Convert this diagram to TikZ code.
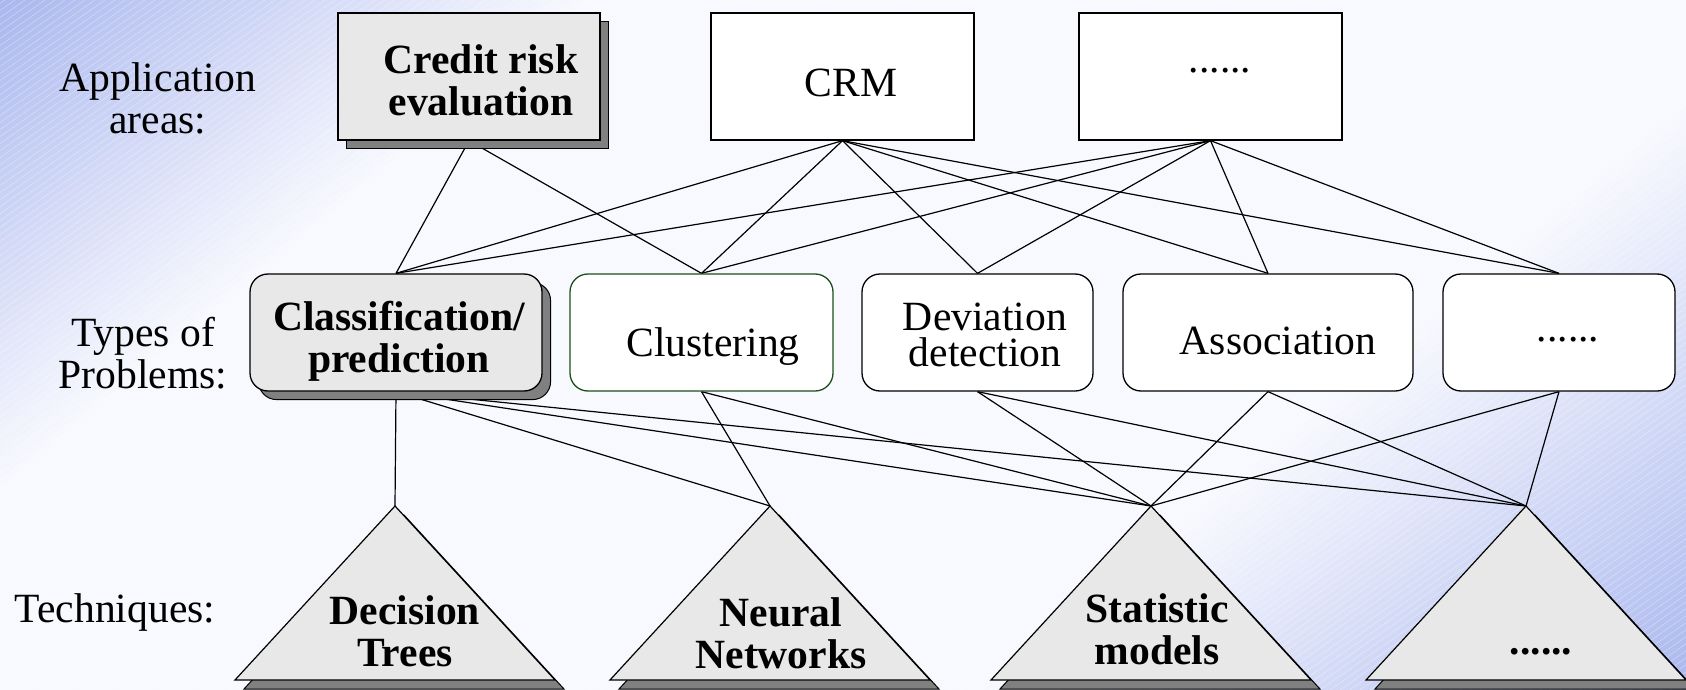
\documentclass[tikz,border=0pt]{standalone}
\usepackage{fontspec}
\setmainfont{Liberation Serif}
\usetikzlibrary{shadows}
\definecolor{bgblue}{RGB}{170,183,238}
\definecolor{bgwhite}{RGB}{248,249,254}
\definecolor{boxgray}{RGB}{232,232,232}
\definecolor{shadowgray}{RGB}{128,128,128}
\definecolor{darkgreen}{RGB}{28,78,28}
\pgfdeclarelayer{bg}
\pgfdeclarelayer{links}
\pgfsetlayers{bg,links,main}
\begin{document}
\begin{tikzpicture}[x=0.5pt,y=-0.5pt,
  txt/.style={inner sep=0pt, align=center, font=\fontsize{20.8}{21}\selectfont},
  btxt/.style={inner sep=0pt, align=center, font=\fontsize{20.8}{21}\selectfont\bfseries},
  areabox/.style={draw=black, line width=0.65pt, fill=white, inner sep=0pt, minimum height=63.5pt},
  probbox/.style={draw=black, line width=0.65pt, fill=white, rounded corners=9pt, inner sep=0pt, minimum height=58.5pt},
  shadowed/.style={fill=boxgray, drop shadow={shadow xshift=4.3pt, shadow yshift=-4.3pt, fill=shadowgray, opacity=1, draw=black, line width=0.5pt}},
  link/.style={draw=black, line width=0.6pt},
  tri/.style={draw=black, line width=0.6pt, fill=boxgray},
  trishadow/.style={draw=black, line width=0.5pt, fill=shadowgray}
]
\useasboundingbox (0,0) rectangle (1686,690);

% ---- diagonal background gradient with faint hatching ----
\begin{pgfonlayer}{bg}
\begin{scope}
  \clip (0,0) rectangle (1686,690);
  \fill[bgwhite] (0,0) rectangle (1686,690);
  \foreach \t in {-815,-810,...,-430} {
    \pgfmathsetmacro\f{min(100,max(0,(-430-\t)/375*100))}
    \fill[bgblue!\f!bgwhite]
      ({843+0.64*\t-770},{345+0.77*\t+640}) -- ({843+0.64*\t+770},{345+0.77*\t-640}) --
      ({843+0.64*(\t+6)+770},{345+0.77*(\t+6)-640}) -- ({843+0.64*(\t+6)-770},{345+0.77*(\t+6)+640}) -- cycle;
  }
  \foreach \t in {350,355,...,815} {
    \pgfmathsetmacro\f{min(100,max(0,(\t-350)/455*100))}
    \fill[bgblue!\f!bgwhite]
      ({843+0.64*\t-770},{345+0.77*\t+640}) -- ({843+0.64*\t+770},{345+0.77*\t-640}) --
      ({843+0.64*(\t+6)+770},{345+0.77*(\t+6)-640}) -- ({843+0.64*(\t+6)-770},{345+0.77*(\t+6)+640}) -- cycle;
  }
  \foreach \s in {-1000,-990,...,1700}
    \draw[white, opacity=0.35, line width=0.3pt] (\s,690) -- ({\s+985},0);
\end{scope}
\end{pgfonlayer}

% ---- row labels ----
\node[txt] (lblarea) at (158,98) {Application\\areas:};
\node[txt] (lblprob) at (143,353) {Types of\\Problems:};
\node[txt, anchor=base] (lbltech) at (115,622) {Techniques:};

% ---- application areas ----
\node[areabox, shadowed, minimum width=131pt] (credit) at (469,76.5) {};
\node[areabox, minimum width=131.5pt] (crm) at (842.5,76.5) {};
\node[areabox, minimum width=131.5pt] (adots) at (1210.5,76.5) {};
\node[btxt] (credit-t) at (481,80) {Credit risk\\evaluation};
\node[txt, anchor=base] (crm-t) at (851,97) {CRM};
\node[txt, anchor=base] (adots-t) at (1220,73) {......};

% ---- types of problems ----
\node[probbox, shadowed, minimum width=146pt] (classif) at (396,332.5) {};
\node[probbox, draw=darkgreen, minimum width=131.5pt] (cluster) at (701.5,332.5) {};
\node[probbox, minimum width=115.5pt] (deviation) at (977.5,332.5) {};
\node[probbox, minimum width=145pt] (assoc) at (1268,332.5) {};
\node[probbox, minimum width=116pt] (pdots) at (1559,332.5) {};
\node[btxt] (classif-t) at (399,341) {Classification/\\prediction};
\node[txt, anchor=base] (cluster-t) at (713,356) {Clustering};
\node[txt, font=\fontsize{20.8}{18.2}\selectfont] (deviation-t) at (985,335) {Deviation\\detection};
\node[txt, anchor=base] (assoc-t) at (1278,354) {Association};
\node[txt, anchor=base] (pdots-t) at (1568,341) {......};

% ---- techniques (triangles) ----
\coordinate (dt) at (395,506);
\coordinate (nn) at (770,506);
\coordinate (sm) at (1151,506);
\coordinate (tdots) at (1526,506);
\foreach \c in {dt,nn,sm,tdots} {
  \draw[trishadow] ([shift={(9,9)}]\c) -- ++(-160,174) -- ++(320,0) -- cycle;
  \draw[tri] (\c) -- ++(-160,174) -- ++(320,0) -- cycle;
}
\node[btxt] (dt-t) at (405,631) {Decision\\Trees};
\node[btxt] (nn-t) at (781,633) {Neural\\Networks};
\node[btxt] (sm-t) at (1157,629) {Statistic\\models};
\node[btxt, anchor=base] (tdots-t) at (1541,654) {......};

% ---- connectors ----
\begin{pgfonlayer}{links}
\foreach \a/\b in {credit/classif, credit/cluster,
                   crm/classif, crm/cluster, crm/deviation, crm/assoc, crm/pdots,
                   adots/classif, adots/cluster, adots/deviation, adots/assoc, adots/pdots}
  \draw[link] (\a.south) -- (\b.north);
\foreach \a/\b in {classif/dt, classif/nn, classif/sm, classif/tdots,
                   cluster/nn, cluster/sm,
                   deviation/sm, deviation/tdots,
                   assoc/sm, assoc/tdots,
                   pdots/sm, pdots/tdots}
  \draw[link] (\a.south) -- (\b);
\end{pgfonlayer}
\end{tikzpicture}
\end{document}
